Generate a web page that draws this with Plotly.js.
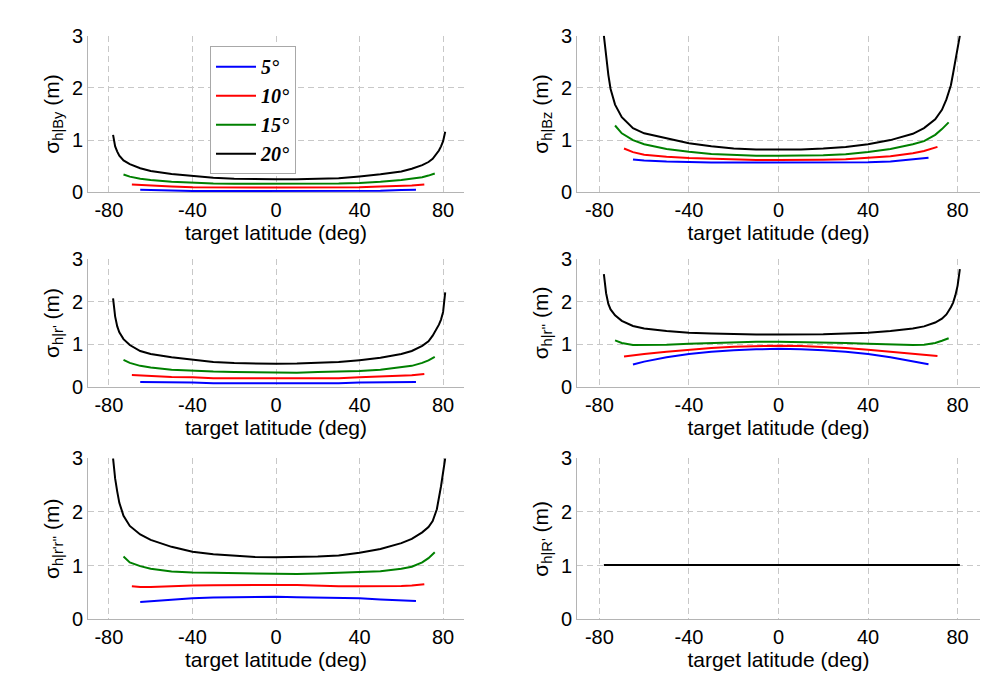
<!DOCTYPE html>
<html>
<head>
<meta charset="utf-8">
<script src="https://cdn.plot.ly/plotly-3.0.1.min.js"></script>
<style>
  html, body { margin: 0; padding: 0; background: #fff; }
  #plot { width: 1000px; height: 689px; }
</style>
</head>
<body>
<div id="plot"></div>
<script>
// latitudes (deg) for each elevation-angle series
var latBlue  = [-65, -60, -50, -40, -30, -20, -10, 0, 10, 20, 30, 40, 50, 60, 67];
var latRed   = [-69, -65, -60, -50, -40, -30, -20, -10, 0, 10, 20, 30, 40, 50, 60, 65, 71];
var latGreen = [-73, -70, -65, -60, -50, -40, -30, -20, -10, 0, 10, 20, 30, 40, 50, 60, 65, 70, 73, 76];
var latBlack = [-78, -77, -76, -75, -73, -70, -65, -60, -50, -40, -30, -20, -10, 0, 10, 20, 30, 40, 50, 60, 65, 70, 73, 75, 77, 78, 79, 80, 81];

var seriesNames  = ['5°', '10°', '15°', '20°'];
var seriesColors = ['#0000ff', '#ff0000', '#008000', '#000000'];

// sigma h|By
var byBlue  = [0.05, 0.045, 0.03, 0.025, 0.025, 0.025, 0.025, 0.025, 0.025, 0.025, 0.025, 0.025, 0.03, 0.045, 0.05];
var byRed   = [0.15, 0.14, 0.13, 0.11, 0.095, 0.09, 0.09, 0.09, 0.09, 0.09, 0.09, 0.09, 0.095, 0.11, 0.12, 0.13, 0.15];
var byGreen = [0.34, 0.30, 0.26, 0.235, 0.20, 0.18, 0.17, 0.165, 0.165, 0.165, 0.165, 0.165, 0.17, 0.18, 0.20, 0.235, 0.26, 0.29, 0.32, 0.36];
var byBlack = [1.10, 0.88, 0.78, 0.70, 0.61, 0.54, 0.46, 0.41, 0.35, 0.31, 0.28, 0.26, 0.25, 0.25, 0.25, 0.255, 0.27, 0.305, 0.345, 0.40, 0.45, 0.52, 0.58, 0.64, 0.74, 0.80, 0.88, 0.98, 1.16];

// sigma h|Bz
var bzBlue  = [0.63, 0.61, 0.59, 0.575, 0.57, 0.57, 0.57, 0.57, 0.57, 0.57, 0.57, 0.575, 0.59, 0.625, 0.66];
var bzRed   = [0.84, 0.77, 0.72, 0.68, 0.655, 0.64, 0.63, 0.62, 0.62, 0.62, 0.625, 0.635, 0.66, 0.69, 0.75, 0.79, 0.87];
var bzGreen = [1.28, 1.13, 1.00, 0.92, 0.83, 0.775, 0.735, 0.715, 0.70, 0.70, 0.70, 0.71, 0.73, 0.77, 0.83, 0.92, 0.98, 1.10, 1.21, 1.34];
var bzBlack = [3.0, 2.6, 2.25, 1.98, 1.68, 1.44, 1.23, 1.13, 1.03, 0.94, 0.88, 0.84, 0.82, 0.82, 0.82, 0.84, 0.87, 0.92, 1.00, 1.12, 1.23, 1.40, 1.58, 1.78, 2.05, 2.28, 2.50, 2.75, 3.0];

// sigma h|r'
var rpBlue  = [0.11, 0.11, 0.105, 0.10, 0.08, 0.08, 0.08, 0.08, 0.08, 0.08, 0.08, 0.10, 0.105, 0.11, 0.11];
var rpRed   = [0.275, 0.265, 0.245, 0.225, 0.22, 0.20, 0.20, 0.20, 0.20, 0.20, 0.20, 0.20, 0.22, 0.235, 0.255, 0.27, 0.30];
var rpGreen = [0.63, 0.56, 0.49, 0.45, 0.40, 0.37, 0.355, 0.345, 0.335, 0.33, 0.33, 0.345, 0.355, 0.37, 0.40, 0.45, 0.49, 0.56, 0.62, 0.70];
var rpBlack = [2.08, 1.65, 1.42, 1.28, 1.12, 0.98, 0.84, 0.77, 0.69, 0.63, 0.58, 0.555, 0.545, 0.54, 0.545, 0.555, 0.58, 0.625, 0.68, 0.77, 0.84, 0.96, 1.07, 1.20, 1.36, 1.46, 1.58, 1.76, 2.22];

// sigma h|r''
var rppBlue  = [0.52, 0.59, 0.69, 0.77, 0.82, 0.86, 0.88, 0.89, 0.88, 0.86, 0.82, 0.77, 0.69, 0.60, 0.53];
var rppRed   = [0.71, 0.74, 0.77, 0.82, 0.87, 0.91, 0.94, 0.96, 0.965, 0.96, 0.94, 0.91, 0.87, 0.82, 0.77, 0.75, 0.72];
var rppGreen = [1.09, 1.03, 0.98, 0.98, 0.99, 1.01, 1.03, 1.05, 1.055, 1.06, 1.055, 1.05, 1.03, 1.01, 0.99, 0.98, 0.99, 1.03, 1.08, 1.14];
var rppBlack = [2.65, 2.20, 1.95, 1.82, 1.68, 1.55, 1.43, 1.37, 1.31, 1.27, 1.25, 1.235, 1.23, 1.23, 1.23, 1.235, 1.25, 1.27, 1.31, 1.37, 1.42, 1.51, 1.60, 1.70, 1.87, 1.98, 2.15, 2.38, 2.77];

// sigma h|r'r''
var rrBlue  = [0.32, 0.335, 0.365, 0.39, 0.405, 0.41, 0.42, 0.42, 0.41, 0.405, 0.40, 0.39, 0.37, 0.355, 0.34];
var rrRed   = [0.615, 0.60, 0.60, 0.62, 0.63, 0.635, 0.64, 0.64, 0.64, 0.64, 0.625, 0.615, 0.615, 0.615, 0.62, 0.63, 0.655];
var rrGreen = [1.17, 1.06, 0.99, 0.94, 0.89, 0.87, 0.865, 0.86, 0.855, 0.845, 0.845, 0.855, 0.865, 0.875, 0.895, 0.94, 0.98, 1.06, 1.14, 1.25];
var rrBlack = [3.0, 2.62, 2.38, 2.17, 1.93, 1.74, 1.58, 1.48, 1.35, 1.26, 1.21, 1.18, 1.16, 1.155, 1.16, 1.17, 1.19, 1.24, 1.31, 1.42, 1.50, 1.62, 1.72, 1.83, 2.05, 2.25, 2.48, 2.74, 3.0];

// sigma h|R'
var RpBlue  = [1.01, 1.01, 1.01, 1.01, 1.01, 1.01, 1.01, 1.01, 1.01, 1.01, 1.01, 1.01, 1.01, 1.01, 1.01];
var RpRed   = [1.01, 1.01, 1.01, 1.01, 1.01, 1.01, 1.01, 1.01, 1.01, 1.01, 1.01, 1.01, 1.01, 1.01, 1.01, 1.01, 1.01];
var RpGreen = [1.01, 1.01, 1.01, 1.01, 1.01, 1.01, 1.01, 1.01, 1.01, 1.01, 1.01, 1.01, 1.01, 1.01, 1.01, 1.01, 1.01, 1.01, 1.01, 1.01];
var RpBlack = [1.01, 1.01, 1.01, 1.01, 1.01, 1.01, 1.01, 1.01, 1.01, 1.01, 1.01, 1.01, 1.01, 1.01, 1.01, 1.01, 1.01, 1.01, 1.01, 1.01, 1.01, 1.01, 1.01, 1.01, 1.01, 1.01, 1.01, 1.01, 1.01];

var xTickVals = [-80, -40, 0, 40, 80];
var xTickText = ['-80', '-40', '0', '40', '80'];
var yTickVals = [0, 1, 2, 3];

var panelTitles = [
  'σ<sub>h|By</sub> (m)',
  'σ<sub>h|Bz</sub> (m)',
  "σ<sub>h|r'</sub> (m)",
  "σ<sub>h|r''</sub> (m)",
  "σ<sub>h|r'r''</sub> (m)",
  "σ<sub>h|R'</sub> (m)"
];
var panelData = [
  [byBlue, byRed, byGreen, byBlack],
  [bzBlue, bzRed, bzGreen, bzBlack],
  [rpBlue, rpRed, rpGreen, rpBlack],
  [rppBlue, rppRed, rppGreen, rppBlack],
  [rrBlue, rrRed, rrGreen, rrBlack],
  [RpBlue, RpRed, RpGreen, RpBlack]
];
var lats = [latBlue, latRed, latGreen, latBlack];

// panel placement (paper fractions)
var colDomains = [[0.088, 0.464], [0.577, 0.980]];
var rowDomains = [[0.7209, 0.9482], [0.4388, 0.6237], [0.1012, 0.3348]];

var font = 'Liberation Sans, Arial, sans-serif';
var data = [];
var layout = {
  width: 1000,
  height: 689,
  margin: {l: 0, r: 0, t: 0, b: 0},
  paper_bgcolor: '#ffffff',
  plot_bgcolor: '#ffffff',
  font: {family: font, size: 20, color: '#000000'},
  showlegend: true,
  legend: {
    x: 0.21, y: 0.933, xanchor: 'left', yanchor: 'top',
    bgcolor: '#ffffff', bordercolor: '#a8a8a8', borderwidth: 1,
    font: {family: 'Liberation Serif, Times New Roman, serif', size: 20, weight: 'bold', style: 'italic', color: '#000'},
    tracegroupgap: 0,
    itemwidth: 40
  }
};

for (var p = 0; p < 6; p++) {
  var n = p + 1;
  var xa = n === 1 ? 'x' : 'x' + n;
  var ya = n === 1 ? 'y' : 'y' + n;
  for (var s = 0; s < 4; s++) {
    data.push({
      x: lats[s],
      y: panelData[p][s],
      xaxis: xa,
      yaxis: ya,
      type: 'scatter',
      mode: 'lines',
      name: seriesNames[s],
      showlegend: p === 0,
      line: {color: seriesColors[s], width: 2},
      cliponaxis: true
    });
  }
  var col = p % 2;
  var row = Math.floor(p / 2);
  layout['xaxis' + (n === 1 ? '' : n)] = {
    domain: colDomains[col],
    anchor: ya,
    range: [-90, 90],
    tickmode: 'array',
    tickvals: xTickVals,
    ticktext: xTickText,
    showgrid: true,
    gridcolor: '#c8c8c8',
    griddash: '6px,4px',
    gridwidth: 1,
    zeroline: false,
    showline: true,
    linecolor: '#b4b4b4',
    linewidth: 1,
    ticks: '',
    tickfont: {family: font, size: 20},
    title: {text: 'target latitude (deg)', font: {family: font, size: 21}, standoff: 0}
  };
  layout['yaxis' + (n === 1 ? '' : n)] = {
    domain: rowDomains[row],
    anchor: xa,
    range: [0, 3],
    tickmode: 'array',
    tickvals: yTickVals,
    showgrid: true,
    gridcolor: '#c8c8c8',
    griddash: '6px,4px',
    gridwidth: 1,
    zeroline: false,
    showline: true,
    linecolor: '#b4b4b4',
    linewidth: 1,
    ticks: '',
    tickfont: {family: font, size: 20},
    title: {text: panelTitles[p], font: {family: font, size: 21}, standoff: 6}
  };
}

Plotly.newPlot('plot', data, layout, {staticPlot: true});
</script>
</body>
</html>
